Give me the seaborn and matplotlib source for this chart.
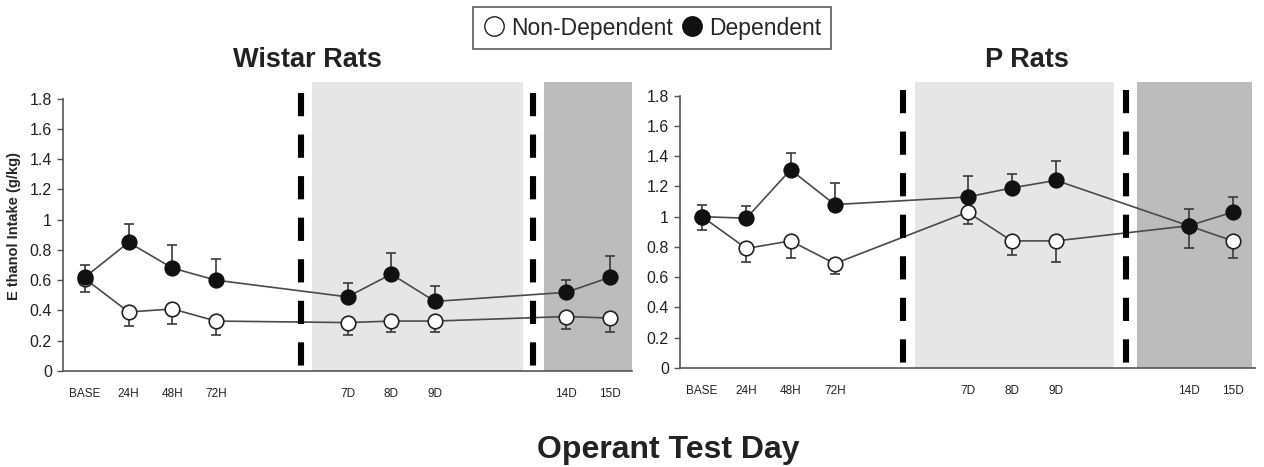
import matplotlib
matplotlib.use("Agg")
import matplotlib.pyplot as plt
import pandas as pd
import seaborn as sns
from matplotlib.lines import Line2D

# slots on the categorical x axis (blank ones are gaps)
slot_labels = ["BASE", "24H", "48H", "72H", "", "", "7D", "8D", "9D", "", "", "14D", "15D"]
days = ["BASE", "24H", "48H", "72H", "7D", "8D", "9D", "14D", "15D"]

# Wistar rats
wistar_dep = [0.62, 0.85, 0.68, 0.60, 0.49, 0.64, 0.46, 0.52, 0.62]
wistar_dep_err = [0.08, 0.12, 0.15, 0.14, 0.09, 0.14, 0.10, 0.08, 0.14]
wistar_non = [0.61, 0.39, 0.41, 0.33, 0.32, 0.33, 0.33, 0.36, 0.35]
wistar_non_err = [0.09, 0.09, 0.10, 0.09, 0.08, 0.07, 0.07, 0.08, 0.09]

# P rats
p_dep = [1.00, 0.99, 1.31, 1.08, 1.13, 1.19, 1.24, 0.94, 1.03]
p_dep_err = [0.08, 0.08, 0.11, 0.14, 0.14, 0.09, 0.13, 0.11, 0.10]
p_non = [1.00, 0.79, 0.84, 0.69, 1.03, 0.84, 0.84, 0.94, 0.84]
p_non_err = [0.09, 0.09, 0.11, 0.07, 0.08, 0.09, 0.14, 0.15, 0.11]

sns.set_style("white")
plt.rcParams['font.family'] = ['Liberation Sans', 'DejaVu Sans']

fig = plt.figure(figsize=(12.64, 4.67), dpi=100)
ax1 = fig.add_axes([63 / 1264, 96 / 467, 569 / 1264, 289 / 467])
ax2 = fig.add_axes([680 / 1264, 99 / 467, 575 / 1264, 286 / 467])

# shading / dashed line layout per panel (in slot units)
panels = [
    (ax1, wistar_dep, wistar_dep_err, wistar_non, wistar_non_err, 1.91,
     (4.93, 5.18, 10.0, 10.23, 10.5, 12.5)),
    (ax2, p_dep, p_dep_err, p_non, p_non_err, 1.89,
     (4.55, 4.82, 9.32, 9.59, 9.84, 12.44)),
]

for ax, dep, dep_err, non, non_err, ytop, lay in panels:
    d1, l0, l1, d2, k0, k1 = lay
    ax.axvspan(l0, l1, color="#e6e6e6", zorder=0, lw=0)
    ax.axvspan(k0, k1, color="#bcbcbc", zorder=0, lw=0)

    df = pd.DataFrame({
        "slot": [slot_labels.index(d) for d in days] * 2,
        "intake": non + dep,
        "err": non_err + dep_err,
        "group": ["Non-Dependent"] * len(days) + ["Dependent"] * len(days),
    })
    sns.lineplot(data=df, x="slot", y="intake", hue="group",
                 palette={"Non-Dependent": "#4a4a4a", "Dependent": "#4a4a4a"},
                 lw=1.2, legend=False, ax=ax, zorder=2, sort=True)

    non_df = df[df["group"] == "Non-Dependent"]
    dep_df = df[df["group"] == "Dependent"]
    ax.errorbar(non_df["slot"], non_df["intake"], yerr=[non_df["err"], [0] * len(non_df)],
                fmt="none", ecolor="#3a3a3a", elinewidth=1.2, capsize=3.5, capthick=1.2, zorder=3)
    ax.errorbar(dep_df["slot"], dep_df["intake"], yerr=[[0] * len(dep_df), dep_df["err"]],
                fmt="none", ecolor="#3a3a3a", elinewidth=1.2, capsize=3.5, capthick=1.2, zorder=3)
    sns.scatterplot(data=non_df, x="slot", y="intake", color="white", edgecolor="#222222",
                    linewidth=1.2, s=110, ax=ax, zorder=4, legend=False)
    sns.scatterplot(data=dep_df, x="slot", y="intake", color="#111111", edgecolor="#111111",
                    linewidth=1.2, s=110, ax=ax, zorder=4, legend=False)

    # dashed separators, dash pattern starting from the top
    for xv in (d1, d2):
        ax.plot([xv, xv], [1.84, 0], color="black", lw=4.4,
                dashes=(3.8, 3.0), solid_capstyle="butt", dash_capstyle="butt", zorder=5)

    ax.set_xlim(-0.5, 12.5)
    ax.set_ylim(0, ytop)
    ax.set_yticks([0, 0.2, 0.4, 0.6, 0.8, 1, 1.2, 1.4, 1.6, 1.8])
    ax.set_yticklabels(["0", "0.2", "0.4", "0.6", "0.8", "1", "1.2", "1.4", "1.6", "1.8"],
                       fontsize=11.5, color="#222222")
    ax.set_xticks([i - 0.5 for i in range(14)])
    ax.set_xticklabels([])
    ax.set_xticks(range(13), minor=True)
    ax.set_xticklabels(slot_labels, minor=True, fontsize=8.5, color="#222222")
    ax.tick_params(axis="x", which="major", direction="inout", length=7, width=1, color="#555555")
    ax.tick_params(axis="x", which="minor", length=0, pad=12)
    ax.tick_params(axis="y", direction="out", length=4, width=1, color="#555555", pad=4, left=True)
    for s in ("top", "right"):
        ax.spines[s].set_visible(False)
    for s in ("left", "bottom"):
        ax.spines[s].set_color("#555555")
        ax.spines[s].set_linewidth(1.2)
    ax.spines["left"].set_bounds(0, 1.8)
    ax.set_xlabel("")
    ax.set_ylabel("")

ax1.set_ylabel("E thanol Intake (g/kg)", fontsize=10.5, fontweight="bold", labelpad=6)

fig.text(307 / 1264, 1 - 60 / 467, "Wistar Rats", ha="center", va="center",
         fontsize=19.5, fontweight="bold", color="#222222")
fig.text(1027 / 1264, 1 - 60 / 467, "P Rats", ha="center", va="center",
         fontsize=19.5, fontweight="bold", color="#222222")
fig.text(668 / 1264, 1 - 450 / 467, "Operant Test Day", ha="center", va="center",
         fontsize=23, fontweight="bold", color="#222222")

handles = [
    Line2D([], [], marker="o", ls="none", markersize=14, markerfacecolor="white",
           markeredgecolor="#222222", markeredgewidth=1.0),
    Line2D([], [], marker="o", ls="none", markersize=14, markerfacecolor="#111111",
           markeredgecolor="#111111"),
]
leg = fig.legend(handles, ["Non-Dependent", "Dependent"], loc="center",
                 bbox_to_anchor=(652 / 1264, 1 - 28 / 467), ncol=2, fontsize=16.5,
                 frameon=True, fancybox=False, handletextpad=0.25, columnspacing=0.35,
                 handlelength=1.0, borderpad=0.4, borderaxespad=0)
leg.get_frame().set_edgecolor("#333333")
leg.get_frame().set_linewidth(1.2)

fig.savefig("out.png", dpi=100)
